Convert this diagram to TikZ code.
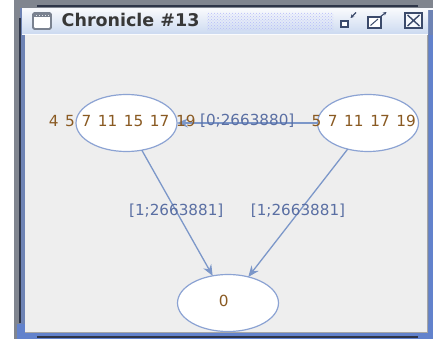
\documentclass[tikz,border=0pt]{standalone}
\usepackage{fontspec}
\setmainfont{DejaVu Sans}
\usetikzlibrary{shapes.geometric,arrows.meta,patterns}
\definecolor{framegray}{HTML}{80858F}
\definecolor{framedark}{HTML}{2E3548}
\definecolor{frameblue}{HTML}{6282CC}
\definecolor{bgcol}{HTML}{EEEEEE}
\definecolor{edgecol}{HTML}{7C97C9}
\definecolor{ellcol}{HTML}{8CA3D3}
\definecolor{labcol}{HTML}{5A6FA3}
\definecolor{txtcol}{HTML}{8A5A22}
\definecolor{titletop}{HTML}{F6F8FC}
\definecolor{titlebot}{HTML}{CCDAF0}
\definecolor{icondark}{HTML}{3B4A6B}
\definecolor{icongray}{HTML}{7A8290}
\newcommand{\statefont}{\fontsize{15.3}{16}\selectfont\spaceskip 6.6pt\relax}
\newcommand{\labelfont}{\fontsize{15.2}{16}\selectfont}
\newcommand{\titlefont}{\fontsize{17.5}{18}\selectfont\bfseries}
\tikzset{
  statebox/.style={ellipse,draw=ellcol,fill=white,line width=1.2pt,minimum width=101pt,minimum height=57pt,inner sep=0pt,outer sep=0pt},
  nodetext/.style={text=txtcol,font=\statefont,inner sep=0pt,xshift=-4.3pt,yshift=2.2pt},
  conn/.style={draw=edgecol,line width=1.3pt,-{Stealth[length=11pt,width=9pt]}},
  connlabel/.style={text=labcol,font=\labelfont,inner sep=0pt,yshift=2.4pt}
}
\begin{document}
\begin{tikzpicture}[x=1pt,y=-1pt]
\useasboundingbox (0,0) rectangle (433,339);
\fill[white] (0,0) rectangle (433,339);
% window frame
\fill[framegray] (14,0) rectangle (433,339);
\fill[frameblue!60!framegray] (20,8) rectangle (433,339);
\fill[white!85!titlebot] (22,8) rectangle (433,10);
\fill[frameblue] (17,324) rectangle (433,339);
\fill[frameblue] (429,35) rectangle (433,339);
\fill[top color=titletop,bottom color=titlebot] (22,10) rectangle (428,34);
\fill[white!90!titlebot] (22,34) rectangle (428,35.5);
\fill[bgcol] (25,35.5) rectangle (427,332);
\draw[gray!70,line width=0.8pt] (25,332) -- (427,332) -- (427,35.5);
\draw[framedark,line width=1.3pt] (37,6) -- (418,6);
\draw[framedark,line width=1.1pt] (20,18) -- (20,323);
\draw[framedark,line width=1.3pt] (37,337) -- (418,337);
% title bar content
\draw[icongray,line width=1.8pt,rounded corners=1.5pt,fill=white] (33,13) rectangle (51,29);
\fill[icongray] (33,13) rectangle (51,17.5);
\foreach \i in {36,39,...,49} \fill[white!80!icongray] (\i,14.7) rectangle ++(1.2,1.2);
\node[anchor=base west,inner sep=0pt,text=black!78,font=\titlefont] (title) at (61.5,26.8) {Chronicle \#13};
\fill[pattern=crosshatch dots,pattern color=titlebot!60!blue!55] (207,13) rectangle (333,31);
% minimize
\draw[icondark,line width=1.3pt,fill=white] (341,21) rectangle (348,27);
\draw[icondark,line width=1.1pt,-{Stealth[length=3.5pt,width=3.5pt]}] (356,12.5) -- (350.5,18);
% maximize
\draw[icondark,line width=1.3pt,fill=white] (368,17) rectangle (381,28);
\draw[icondark,line width=1pt] (370.5,25.5) -- (378,19);
\draw[icondark,line width=1.1pt,-{Stealth[length=3.5pt,width=3.5pt]}] (380,17) -- (386.5,12);
% close
\draw[icondark,line width=1.5pt,fill=white!85!titlebot] (405,13) rectangle (422,28);
\draw[icondark,line width=1.4pt] (407.5,15) -- (419.5,26) (407.5,26) -- (419.5,15);
% graph
\node[statebox] (a) at (126.5,123) {};
\node[statebox] (b) at (368,123) {};
\node[statebox] (c) at (228,303) {};
\draw[conn] (b) -- node[connlabel] (lab0) {[0;2663880]} (a);
\draw[conn] (a) -- node[connlabel,xshift=-1pt] (lab1) {[1;2663881]} (c);
\draw[conn] (b) -- node[connlabel] (lab2) {[1;2663881]} (c);
\node[nodetext] (ta) at (a.center) {4 5 7 11 15 17 19};
\node[nodetext] (tb) at (b.center) {5 7 11 17 19};
\node[nodetext] (tc) at (c.center) {0};
\end{tikzpicture}
\end{document}
